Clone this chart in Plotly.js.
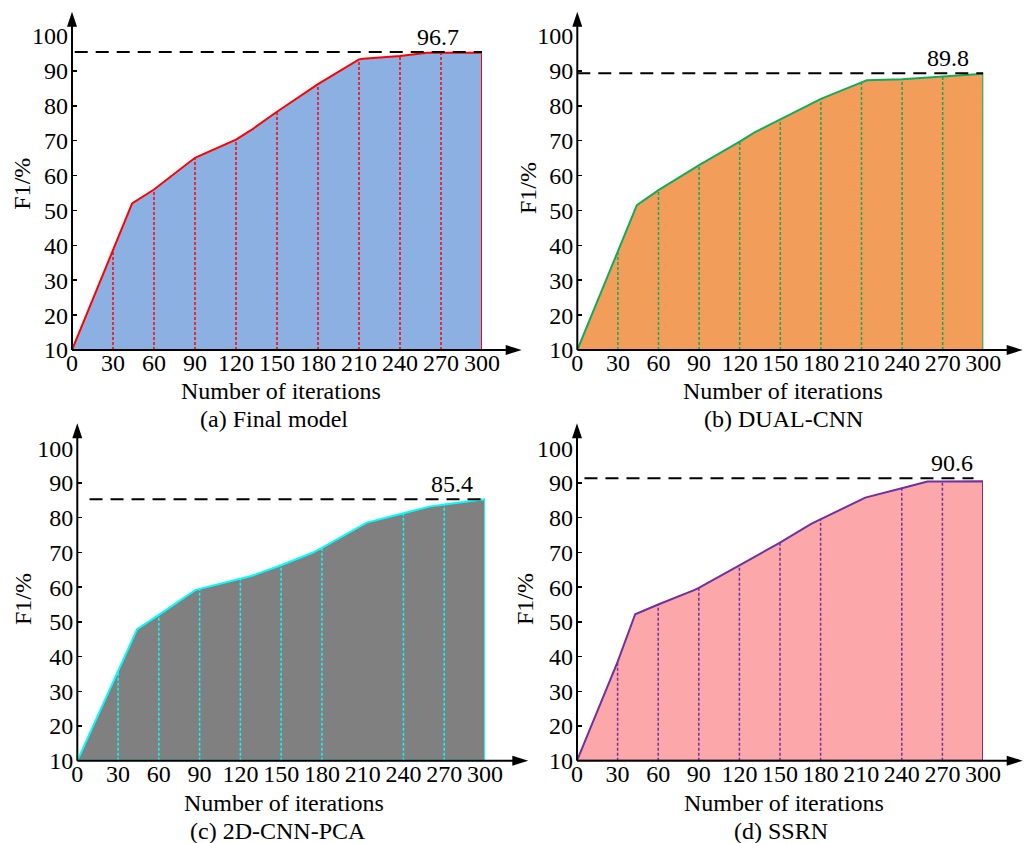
<!DOCTYPE html>
<html>
<head>
<meta charset="utf-8">
<script src="https://cdn.plot.ly/plotly-3.0.1.min.js"></script>
<style>
  html, body { margin: 0; padding: 0; background: #ffffff; }
  #chart { width: 1025px; height: 843px; }
</style>
</head>
<body>
<div id="chart"></div>
<script>
// ---------------- data ----------------
const panelNames = ['(a) Final model', '(b) DUAL-CNN', '(c) 2D-CNN-PCA', '(d) SSRN'];
const peakLabels = ['96.7', '89.8', '85.4', '90.6'];
const peakLevels = [95.4, 89.3, 85.3, 91.4];
const guideIters = [30, 60, 90, 120, 150, 180, 210, 240, 270];
const xTickVals = [0, 30, 60, 90, 120, 150, 180, 210, 240, 270, 300];
const yTickVals = [10, 20, 30, 40, 50, 60, 70, 80, 90, 100];

const iterA = [0, 30, 44, 60, 90, 120, 131, 150, 173, 180, 210, 213, 240, 260, 270, 300];
const f1A   = [10, 38.4, 52, 56, 65.1, 70.3, 73, 78.3, 84.5, 86.2, 93.3, 93.5, 94.3, 95.2, 95.2, 95.2];

const iterB = [0, 30, 44, 60, 90, 120, 131, 150, 173, 180, 210, 214, 240, 270, 300];
const f1B   = [10, 38.2, 51.5, 55.8, 63, 69.7, 72.4, 76.1, 80.7, 82, 86.7, 87.3, 87.6, 88.3, 89.2];

const iterC = [0, 30, 44, 60, 87, 90, 120, 128, 150, 173, 180, 213, 240, 259, 270, 300];
const f1C   = [10, 36, 47.9, 52, 59.2, 59.5, 62.4, 63.2, 66.3, 69.9, 71.3, 78.6, 81.3, 83.2, 83.8, 85.3];

const iterD = [0, 30, 43, 60, 87, 90, 120, 150, 173, 180, 213, 240, 259, 270, 300];
const f1D   = [10, 38.5, 52.2, 55, 59.2, 59.8, 66.3, 72.8, 78.2, 79.5, 85.8, 88.5, 90.4, 90.4, 90.5];

// ---------------- styling ----------------
const lineColors = ['#FF0000', '#12AB5A', '#00FFFF', '#7030A0'];
const fillColors = ['#8DB0E2', '#F39D5A', '#808080', '#FCA8AA'];
const FONT = '"Liberation Serif", "Times New Roman", Times, serif';
const TICK_SIZE = 24, TEXT_SIZE = 24;

const W = 1025, H = 843;
const fx = p => p / W;
const fy = p => 1 - p / H;

// pixel geometry of the four panels: origin, x end (300), y top (100), arrow tips
const geo = [
  {ox: 72,    oy: 350,   xe: 482,   yt: 36,    xtip: 521.7,  ytip: 11.7},
  {ox: 577.3, oy: 350,   xe: 983.3, yt: 36,    xtip: 1022.7, ytip: 11.7},
  {ox: 77.3,  oy: 760.7, xe: 485,   yt: 448.3, xtip: 528.3,  ytip: 423.3},
  {ox: 577,   oy: 760.7, xe: 983,   yt: 448.3, xtip: 1022.7, ytip: 423.3}
];
const dashSpan = [[2, 300], [0, 300], [9, 300], [-10, 293]];
const titlePos = [
  {xt: 281, yt: 391, cap: 274, yc: 419, fx: 21.7, fyc: 184, px: 268},
  {xt: 783, yt: 391, cap: 783, yc: 419, fx: 528,  fyc: 188, px: 274},
  {xt: 284, yt: 803, cap: 278, yc: 831, fx: 23,   fyc: 599, px: 276},
  {xt: 784, yt: 803, cap: 781, yc: 831, fx: 525,  fyc: 599, px: 277}
];

const series = [[iterA, f1A], [iterB, f1B], [iterC, f1C], [iterD, f1D]];

const traces = [];
const layout = {
  width: W, height: H,
  margin: {l: 0, r: 0, t: 0, b: 0},
  paper_bgcolor: '#ffffff', plot_bgcolor: 'rgba(0,0,0,0)',
  showlegend: false,
  font: {family: FONT, size: TICK_SIZE, color: '#000'},
  annotations: [], shapes: []
};

series.forEach(([xs, ys], i) => {
  const g = geo[i];
  const sfx = i === 0 ? '' : String(i + 1);
  const xa = 'x' + sfx, ya = 'y' + sfx;
  const base = ys[0];
  // filled area + outline
  traces.push({
    type: 'scatter', mode: 'lines', xaxis: xa, yaxis: ya,
    x: xs.concat([xs[xs.length - 1], xs[0]]),
    y: ys.concat([base, base]),
    fill: 'toself', fillcolor: fillColors[i],
    line: {color: lineColors[i], width: 2},
    cliponaxis: false, hoverinfo: 'skip'
  });
  // dotted guide lines
  const gx = [], gy = [];
  guideIters.forEach(t => {
    const k = xs.indexOf(t);
    if (k >= 0) { gx.push(t, t, null); gy.push(base, ys[k], null); }
  });
  traces.push({
    type: 'scatter', mode: 'lines', xaxis: xa, yaxis: ya,
    x: gx, y: gy, line: {color: lineColors[i], width: 1.5, dash: '3px,2px'},
    cliponaxis: false, hoverinfo: 'skip'
  });

  layout['xaxis' + sfx] = {
    domain: [fx(g.ox), fx(g.xe)], anchor: 'free', position: fy(g.oy - 4), range: [0, 300],
    tickvals: xTickVals, ticktext: xTickVals.map(String),
    ticks: '', showline: false, showgrid: false, zeroline: false,
    tickfont: {family: FONT, size: TICK_SIZE, color: '#000'}, ticklabelstandoff: 0
  };
  layout['yaxis' + sfx] = {
    domain: [fy(g.oy), fy(g.yt)], anchor: xa, range: [10, 100],
    tickvals: yTickVals, ticktext: yTickVals.map(String),
    ticks: 'inside', ticklen: 5, tickwidth: 1.5, tickcolor: '#000',
    showline: false, showgrid: false, zeroline: false,
    tickfont: {family: FONT, size: TICK_SIZE, color: '#000'}, ticklabelstandoff: 3
  };

  // axis lines with arrowheads
  layout.shapes.push(
    {type: 'line', xref: 'paper', yref: 'paper', x0: fx(g.ox), y0: fy(g.oy), x1: fx(g.ox), y1: fy(g.ytip + 10),
     line: {color: '#000', width: 2}, layer: 'above'},
    {type: 'line', xref: 'paper', yref: 'paper', x0: fx(g.ox), y0: fy(g.oy), x1: fx(g.xtip - 10), y1: fy(g.oy),
     line: {color: '#000', width: 2}, layer: 'above'},
    {type: 'path', xref: 'paper', yref: 'paper', layer: 'above', fillcolor: '#000', line: {width: 0},
     path: `M${fx(g.ox)},${fy(g.ytip)} L${fx(g.ox - 5)},${fy(g.ytip + 15)} L${fx(g.ox + 5)},${fy(g.ytip + 15)} Z`},
    {type: 'path', xref: 'paper', yref: 'paper', layer: 'above', fillcolor: '#000', line: {width: 0},
     path: `M${fx(g.xtip)},${fy(g.oy)} L${fx(g.xtip - 16)},${fy(g.oy - 5)} L${fx(g.xtip - 16)},${fy(g.oy + 5)} Z`},
    // dashed peak line
    {type: 'line', xref: xa, yref: ya, x0: dashSpan[i][0], x1: dashSpan[i][1], y0: peakLevels[i], y1: peakLevels[i],
     line: {color: '#000', width: 2, dash: '13px,8px'}, layer: 'above'}
  );

  const tp = titlePos[i];
  layout.annotations.push(
    {xref: xa, yref: ya, x: tp.px, y: peakLevels[i], text: peakLabels[i], showarrow: false,
     xanchor: 'center', yanchor: 'bottom', yshift: 0, font: {family: FONT, size: TEXT_SIZE, color: '#000'}},
    {xref: 'paper', yref: 'paper', x: fx(tp.xt), y: fy(tp.yt), text: 'Number of iterations', showarrow: false,
     xanchor: 'center', yanchor: 'middle', font: {family: FONT, size: TEXT_SIZE, color: '#000'}},
    {xref: 'paper', yref: 'paper', x: fx(tp.cap), y: fy(tp.yc), text: panelNames[i], showarrow: false,
     xanchor: 'center', yanchor: 'middle', font: {family: FONT, size: TEXT_SIZE, color: '#000'}},
    {xref: 'paper', yref: 'paper', x: fx(tp.fx), y: fy(tp.fyc), text: 'F1/%', showarrow: false, textangle: -90,
     xanchor: 'center', yanchor: 'middle', font: {family: FONT, size: TEXT_SIZE, color: '#000'}}
  );
});

Plotly.newPlot('chart', traces, layout, {displayModeBar: false, staticPlot: true});
</script>
</body>
</html>
